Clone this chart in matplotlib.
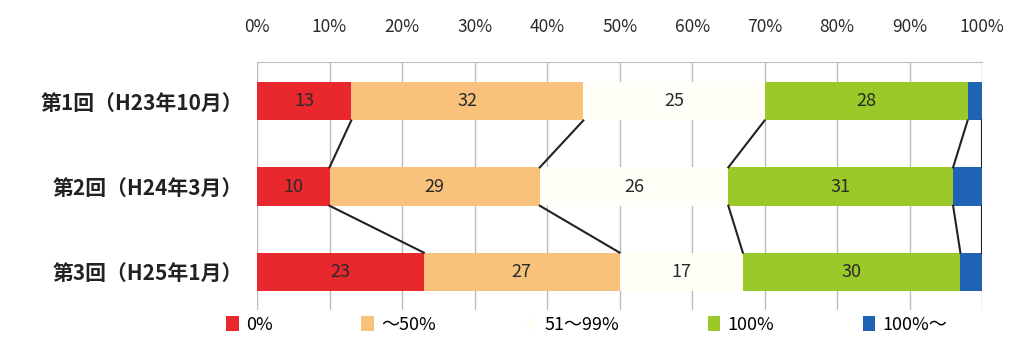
import matplotlib.pyplot as plt
import numpy as np

plt.rcParams['font.family'] = ['Noto Sans CJK JP', 'DejaVu Sans']

categories = ['第1回（H23年10月）', '第2回（H24年3月）', '第3回（H25年1月）']
series_names = ['0%', '～50%', '51～99%', '100%', '100%～']
values = [
    [13, 10, 23],   # 0%
    [32, 29, 27],   # ~50%
    [25, 26, 17],   # 51~99%
    [28, 31, 30],   # 100%
    [2, 4, 3],      # 100%~
]
colors = ['#e8282c', '#f8c27c', '#fffff8', '#9cc92a', '#1f63b4']
xticks = np.arange(0, 101, 10)

fig = plt.figure(figsize=(10.17, 3.45), dpi=100)
ax = fig.add_axes([0.2527, 0.101, 0.713, 0.719])

y = np.arange(len(categories))
h = 0.45
left = np.zeros(len(categories))
handles = []
for i, (name, vals) in enumerate(zip(series_names, values)):
    vals = np.array(vals, dtype=float)
    bars = ax.barh(y, vals, left=left, height=h, color=colors[i], label=name, zorder=2)
    handles.append(bars)
    if i < 4:
        ax.bar_label(bars, labels=[str(int(v)) for v in vals], label_type='center',
                     fontsize=13, color='#2a2a2a')
    left = left + vals

# connector lines between bars
cum = np.cumsum(np.array(values, dtype=float), axis=0)
for k in range(cum.shape[0]):
    for r in range(len(categories) - 1):
        ax.plot([cum[k, r], cum[k, r + 1]], [r + h / 2, r + 1 - h / 2],
                color='#222222', lw=1.5, zorder=3)

ax.set_xlim(0, 100)
ax.set_ylim(2.45, -0.46)
ax.set_yticks(y)
ax.set_yticklabels(categories, fontsize=15, fontweight='bold', color='#222222')
ax.set_xticks(xticks)
ax.set_xticklabels([f'{t}%' for t in xticks], fontsize=12.5, color='#2a2a2a')
ax.xaxis.tick_top()
ax.tick_params(axis='x', length=0, pad=19)
ax.tick_params(axis='y', length=0, pad=10)
ax.grid(axis='x', color='#bbbbbb', lw=1, zorder=0)
for s in ['left', 'right', 'bottom']:
    ax.spines[s].set_visible(False)
ax.spines['top'].set_color('#bbbbbb')

fig.legend(handles=handles, labels=series_names, loc='center', ncol=5,
           bbox_to_anchor=(0.577, 0.058), frameon=False, fontsize=13,
           handlelength=0.7, handleheight=0.9, handletextpad=0.4, columnspacing=4.9)

fig.savefig('out.png', dpi=100)
